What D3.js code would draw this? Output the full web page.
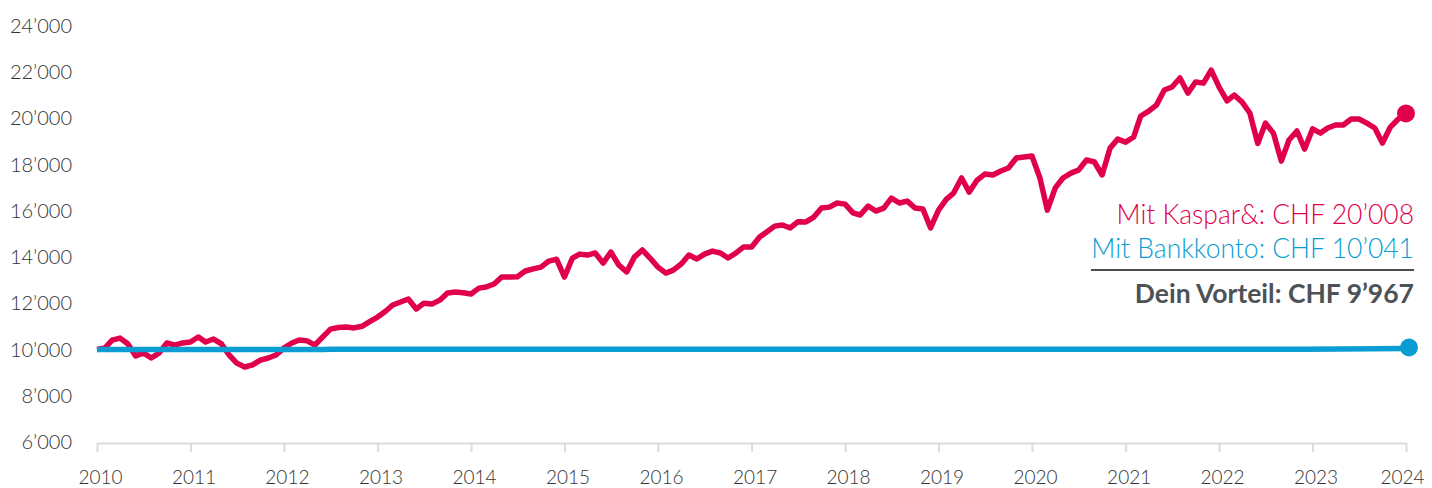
<!DOCTYPE html>
<html>
<head>
<meta charset="utf-8">
<script src="https://cdn.jsdelivr.net/npm/d3@7"></script>
<style>
  body { margin: 0; background: #fff; }
  svg text { font-family: Lato, "Open Sans", sans-serif; }
</style>
</head>
<body>
<div class="visContainer"></div>
<script>
// Data. Monthly values from Jan 2010 to Jan 2024.
const startYear = 2010;
const kasparMonthly = [
  10000, 10060, 10400, 10490, 10250, 9720, 9850, 9630, 9850, 10280, 10190, 10280,
  10320, 10540, 10320, 10450, 10250, 9760, 9410, 9240, 9330, 9540, 9630, 9760,
  10060, 10280, 10410, 10370, 10190, 10540, 10880, 10950, 10970, 10930, 11000, 11200,
  11400, 11650, 11920, 12050, 12180, 11750, 12000, 11960, 12130, 12440, 12480, 12450,
  12400, 12650, 12700, 12830, 13130, 13130, 13140, 13390, 13480, 13560, 13820, 13900,
  13130, 13950, 14120, 14080, 14170, 13730, 14210, 13650, 13350, 13990, 14300, 13950,
  13560, 13300, 13430, 13690, 14080, 13910, 14120, 14250, 14170, 13950, 14170, 14430,
  14430, 14860, 15080, 15330, 15380, 15250, 15520, 15510, 15720, 16110, 16150, 16330,
  16280, 15900, 15810, 16200, 15980, 16110, 16540, 16330, 16410, 16110, 16070, 15250,
  16020, 16500, 16760, 17410, 16800, 17320, 17580, 17540, 17710, 17840, 18270, 18320,
  18360, 17410, 16020, 16980, 17410, 17620, 17750, 18190, 18100, 17540, 18700, 19090,
  18960, 19180, 20090, 20300, 20560, 21210, 21340, 21730, 21080, 21560, 21510, 22070,
  21340, 20740, 20990, 20690, 20220, 18900, 19780, 19350, 18140, 19050, 19440, 18660,
  19530, 19350, 19570, 19700, 19700, 19960, 19960, 19780, 19570, 18920, 19610, 19950,
  20200
];
const bankDates = ['2010-01', '2012-06', '2012-07', '2014-11', '2014-12', '2022-12', '2024-01'];
const bankValues = [10000, 10000, 10005, 10005, 10010, 10010, 10041];

const yTicks = [6000, 8000, 10000, 12000, 14000, 16000, 18000, 20000, 22000, 24000];
const xTickYears = d3.range(2010, 2025);

const finalKaspar = 20008;
const finalBank = 10041;

// SVG constants.
const width = 1432;
const height = 488;
const red = '#e0004d';
const blue = '#0a9dd3';

const ch = d3.formatLocale({ decimal: '.', thousands: '\u2019', grouping: [3], currency: ['', ''] });
const fmt = ch.format(',');

const kaspar = kasparMonthly.map((v, i) => ({ date: new Date(startYear, i, 1), value: v }));
const parseMonth = d3.timeParse('%Y-%m');
const bank = bankDates.map((d, i) => ({ date: parseMonth(d), value: bankValues[i] }));

const x = d3.scaleTime()
            .domain([new Date(2010, 0, 1), new Date(2024, 0, 1)])
            .range([97, 1406]);
const y = d3.scaleLinear()
            .domain([6000, 24000])
            .range([442, 25.5]);

const svg = d3.select('.visContainer')
              .append('svg')
              .attr('width', width)
              .attr('height', height);

// Y labels (no axis line).
svg.append('g')
   .selectAll('text')
   .data(yTicks)
   .enter()
   .append('text')
   .attr('x', 72)
   .attr('y', (d) => y(d))
   .attr('dy', '0.36em')
   .attr('text-anchor', 'end')
   .attr('font-size', 20)
   .attr('font-weight', 300)
   .attr('fill', '#333')
   .text((d) => fmt(d));

// X axis.
const xAxis = d3.axisBottom(x)
                .tickValues(xTickYears.map((yr) => new Date(yr, 0, 1)))
                .tickFormat(d3.timeFormat('%Y'))
                .tickSize(9)
                .tickSizeOuter(0)
                .tickPadding(19);

const gx = svg.append('g')
              .attr('transform', 'translate(0,443)')
              .call(xAxis);
gx.select('.domain').attr('stroke', '#dcdcdc').attr('stroke-width', 2);
gx.selectAll('.tick line').attr('stroke', '#dcdcdc').attr('stroke-width', 2);
gx.selectAll('.tick text')
  .attr('font-size', 19)
  .attr('font-weight', 300)
  .attr('fill', '#333')
  .attr('font-family', 'Lato, sans-serif')
  .attr('dx', (d, i) => i === xTickYears.length - 1 ? -4 : 3);

// Lines.
const line = d3.line()
               .x((d) => x(d.date))
               .y((d) => y(d.value));

svg.append('path')
   .datum(kaspar)
   .attr('fill', 'none')
   .attr('stroke', red)
   .attr('stroke-width', 5.5)
   .attr('stroke-linejoin', 'round')
   .attr('d', line);

svg.append('path')
   .datum(bank)
   .attr('fill', 'none')
   .attr('stroke', blue)
   .attr('stroke-width', 5.5)
   .attr('d', line);

// End dots.
const lastK = kaspar[kaspar.length - 1];
const lastB = bank[bank.length - 1];
svg.append('circle').attr('cx', x(lastK.date)).attr('cy', y(lastK.value)).attr('r', 9).attr('fill', red);
svg.append('circle').attr('cx', x(lastB.date) + 3).attr('cy', y(lastB.value) - 1).attr('r', 9).attr('fill', blue);

// Summary labels.
const lx = 1414;
svg.append('text')
   .attr('x', lx).attr('y', 224)
   .attr('text-anchor', 'end')
   .attr('font-size', 26.5).attr('font-weight', 300)
   .attr('fill', red)
   .text('Mit Kaspar&: CHF ' + fmt(finalKaspar));
svg.append('text')
   .attr('x', lx).attr('y', 258)
   .attr('text-anchor', 'end')
   .attr('font-size', 26.5).attr('font-weight', 300)
   .attr('fill', blue)
   .text('Mit Bankkonto: CHF ' + fmt(finalBank));
svg.append('line')
   .attr('x1', 1091).attr('x2', lx)
   .attr('y1', 270).attr('y2', 270)
   .attr('stroke', '#4a4e52').attr('stroke-width', 2);
svg.append('text')
   .attr('x', lx).attr('y', 303)
   .attr('text-anchor', 'end')
   .attr('font-size', 26.5).attr('font-weight', 700)
   .attr('fill', '#4d5257')
   .text('Dein Vorteil: CHF ' + fmt(finalKaspar - finalBank));
</script>
</body>
</html>
